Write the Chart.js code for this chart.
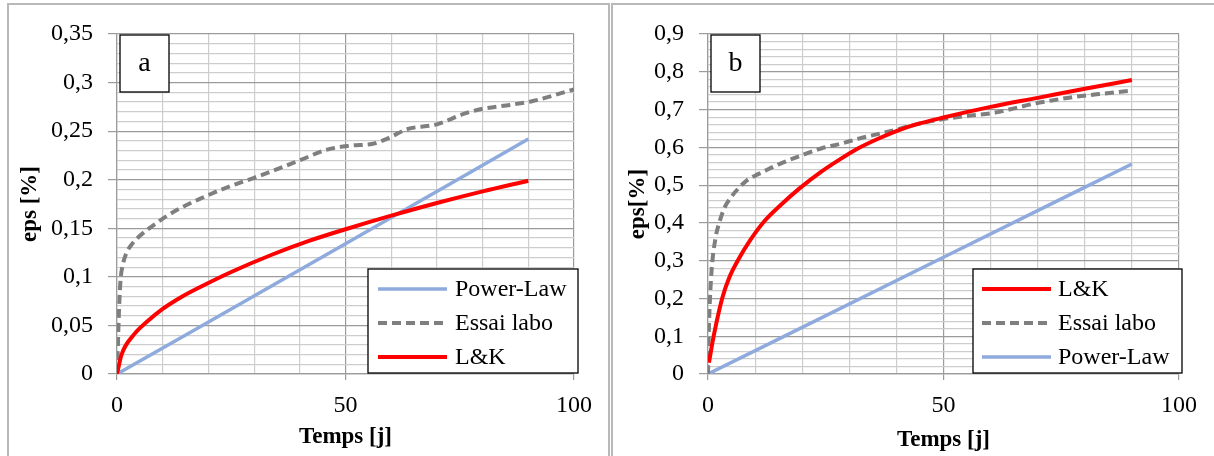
<!DOCTYPE html>
<html lang="fr">
<head>
  <meta charset="UTF-8" />
  <title>Fluage - eps vs Temps</title>
  <script src="https://cdn.jsdelivr.net/npm/chart.js"></script>
  <style>
    body { margin: 0; width: 1214px; height: 456px; overflow: hidden; background: #fff; position: relative; }
    .frame { position: absolute; top: 3px; height: 520px; box-sizing: border-box; border: 2px solid #b9b9b9; background: #fff; }
    canvas { position: absolute; top: 0; }
  </style>
</head>
<body>
  <div class="frame" style="left:7px; width:603px;"></div>
  <div class="frame" style="left:611px; width:700px;"></div>
  <canvas id="chartA" width="607" height="456" style="left:0"></canvas>
  <canvas id="chartB" width="607" height="456" style="left:607px"></canvas>

  <script>
    // panel a
    const powerA_x = [0, 50, 90];
    const powerA_y = [0, 0.134, 0.242];
    const essaiA_x = [0, 0.15, 0.36, 0.73, 1.3, 2, 3, 4.5, 6.5, 8.5, 11, 14, 18, 24, 30, 34, 40, 46, 51, 56, 59, 63.5, 70, 76, 80, 86, 91, 100];
    const essaiA_y = [0, 0.021, 0.055, 0.094, 0.113, 0.124, 0.132, 0.140, 0.148, 0.155, 0.163, 0.171, 0.180, 0.192, 0.202, 0.209, 0.220, 0.231, 0.235, 0.237, 0.242, 0.252, 0.257, 0.268, 0.273, 0.277, 0.281, 0.293];
    const lkA_x = [0, 1, 3.6, 6.6, 10, 14, 18, 25, 34, 42, 50, 60, 70, 80, 90];
    const lkA_y = [0, 0.020, 0.040, 0.054, 0.067, 0.079, 0.089, 0.105, 0.123, 0.137, 0.149, 0.163, 0.176, 0.188, 0.199];

    // panel b
    const lkB_x = [0.2, 1.2, 3, 4.5, 6.3, 9, 12, 15.5, 19.5, 24, 28, 32, 36, 40, 44, 50, 60, 70, 80, 90];
    const lkB_y = [0.03, 0.10, 0.20, 0.255, 0.30, 0.355, 0.405, 0.448, 0.492, 0.535, 0.568, 0.598, 0.622, 0.643, 0.660, 0.679, 0.707, 0.731, 0.755, 0.778];
    const essaiB_x = [0, 0.16, 0.4, 0.8, 1.6, 2.5, 3.5, 4.9, 6.5, 8.2, 10, 11.5, 15, 19.7, 24, 28, 32, 36, 40, 44, 50, 55, 61, 65, 69, 73, 77, 83, 90];
    const essaiB_y = [0, 0.106, 0.194, 0.28, 0.36, 0.405, 0.44, 0.468, 0.492, 0.512, 0.525, 0.534, 0.555, 0.578, 0.597, 0.609, 0.623, 0.635, 0.647, 0.66, 0.675, 0.683, 0.692, 0.703, 0.715, 0.724, 0.732, 0.741, 0.75];
    const powerB_x = [0, 50, 90];
    const powerB_y = [0, 0.309, 0.556];

    const xTickLabels = [0, 50, 100];

    const FONT = '"Liberation Serif", serif';
    const MAJOR = '#9b9b9b';
    const MINOR = '#cdcdcd';

    function pts(xs, ys) {
      return xs.map((x, i) => ({ x: x, y: ys[i] }));
    }

    function powerSet(xs, ys) {
      return { label: 'Power-Law', data: pts(xs, ys), borderColor: '#8faadc', borderWidth: 3.5, order: 2 };
    }
    function essaiSet(xs, ys) {
      return { label: 'Essai labo', data: pts(xs, ys), borderColor: '#7f7f7f', borderWidth: 4, borderDash: [9, 5], order: 1 };
    }
    function lkSet(xs, ys) {
      return { label: 'L&K', data: pts(xs, ys), borderColor: '#ff0000', borderWidth: 4, order: 0 };
    }

    // tag box + legend drawn inside the plot
    const panelDecor = {
      id: 'panelDecor',
      afterDraw(chart, args, opts) {
        const ctx = chart.ctx;
        ctx.save();
        const t = opts.tag;
        ctx.fillStyle = '#fff';
        ctx.fillRect(t.x, t.y, t.w, t.h);
        ctx.strokeStyle = '#000';
        ctx.lineWidth = 1.3;
        ctx.strokeRect(t.x, t.y, t.w, t.h);
        ctx.fillStyle = '#000';
        ctx.font = '28px ' + FONT;
        ctx.textAlign = 'center';
        ctx.textBaseline = 'middle';
        ctx.fillText(t.text, t.x + t.w / 2, t.y + t.h / 2);

        const L = opts.legend;
        ctx.fillStyle = '#fff';
        ctx.fillRect(L.x, L.y, L.w, L.h);
        ctx.strokeRect(L.x, L.y, L.w, L.h);
        ctx.font = '24px ' + FONT;
        ctx.textAlign = 'left';
        L.order.forEach((idx, i) => {
          const ds = chart.data.datasets[idx];
          const y = L.y + 20 + i * 34;
          ctx.strokeStyle = ds.borderColor;
          ctx.lineWidth = ds.borderWidth;
          ctx.setLineDash(ds.borderDash || []);
          ctx.beginPath();
          ctx.moveTo(L.x + L.s0, y);
          ctx.lineTo(L.x + L.s1, y);
          ctx.stroke();
          ctx.setLineDash([]);
          ctx.fillStyle = '#000';
          ctx.fillText(ds.label, L.x + L.tx, y + 1);
        });
        ctx.restore();
      }
    };

    function yLabel(v) {
      return String(Number(v.toFixed(2))).replace('.', ',');
    }

    function makeChart(id, datasets, cfg) {
      const isMajorY = v => Math.abs(Math.round(v * 100) % cfg.yMajor) < 1e-6;
      const isMajorX = v => xTickLabels.includes(Math.round(v));
      return new Chart(document.getElementById(id), {
        type: 'line',
        data: { datasets: datasets },
        plugins: [panelDecor],
        options: {
          responsive: false,
          animation: false,
          devicePixelRatio: 1,
          layout: { padding: { left: cfg.padL, right: cfg.padR, top: 34, bottom: cfg.padB } },
          elements: {
            point: { radius: 0 },
            line: { cubicInterpolationMode: 'monotone', fill: false, borderCapStyle: 'butt' }
          },
          plugins: {
            legend: { display: false },
            tooltip: { enabled: false },
            panelDecor: { tag: cfg.tag, legend: cfg.legend }
          },
          scales: {
            x: {
              type: 'linear',
              min: 0, max: 100,
              afterFit: s => { s.height = cfg.xH; },
              ticks: {
                stepSize: 10,
                autoSkip: false,
                maxRotation: 0,
                padding: 11,
                color: '#000',
                font: { family: FONT, size: 24 },
                callback: v => xTickLabels.includes(Math.round(v)) ? String(Math.round(v)) : ''
              },
              grid: {
                tickLength: 6,
                lineWidth: 1.2,
                color: c => isMajorX(c.tick.value) ? MAJOR : MINOR,
                tickColor: c => isMajorX(c.tick.value) ? MAJOR : 'rgba(0,0,0,0)'
              },
              border: { color: MAJOR, width: 1.2 },
              title: {
                display: true,
                text: 'Temps [j]',
                color: '#000',
                font: { family: FONT, size: 23, weight: 'bold' },
                padding: { top: 0, bottom: 0 }
              }
            },
            y: {
              min: 0, max: cfg.yMax,
              afterFit: s => { s.width = cfg.yW; },
              ticks: {
                stepSize: cfg.yStep,
                maxTicksLimit: 100,
                autoSkip: false,
                padding: 15,
                color: '#000',
                font: { family: FONT, size: 24 },
                callback: v => isMajorY(v) ? yLabel(v) : ''
              },
              grid: {
                tickLength: 9,
                lineWidth: 1.2,
                color: c => isMajorY(c.tick.value) ? MAJOR : MINOR,
                tickColor: c => isMajorY(c.tick.value) ? MAJOR : 'rgba(0,0,0,0)'
              },
              border: { color: MAJOR, width: 1.2 },
              title: {
                display: true,
                text: cfg.yTitle,
                color: '#000',
                font: { family: FONT, size: 23, weight: 'bold' },
                padding: { top: 2, bottom: 0 }
              }
            }
          }
        }
      });
    }

    makeChart('chartA',
      [powerSet(powerA_x, powerA_y), essaiSet(essaiA_x, essaiA_y), lkSet(lkA_x, lkA_y)],
      {
        padL: 14, padR: 33, padB: 5, yW: 103, xH: 77,
        yMax: 0.35, yStep: 0.01, yMajor: 5, yTitle: 'eps [%]',
        tag: { x: 120, y: 35, w: 49, h: 57, text: 'a' },
        legend: { x: 368, y: 269, w: 210, h: 104, s0: 10, s1: 79, tx: 87, order: [0, 1, 2] }
      });

    makeChart('chartB',
      [lkSet(lkB_x, lkB_y), essaiSet(essaiB_x, essaiB_y), powerSet(powerB_x, powerB_y)],
      {
        padL: 15, padR: 35, padB: 2, yW: 86, xH: 80,
        yMax: 0.9, yStep: 0.02, yMajor: 10, yTitle: 'eps[%]',
        tag: { x: 104, y: 35, w: 49, h: 57, text: 'b' },
        legend: { x: 366, y: 269, w: 209, h: 104, s0: 9, s1: 78, tx: 85, order: [0, 1, 2] }
      });
  </script>
</body>
</html>
